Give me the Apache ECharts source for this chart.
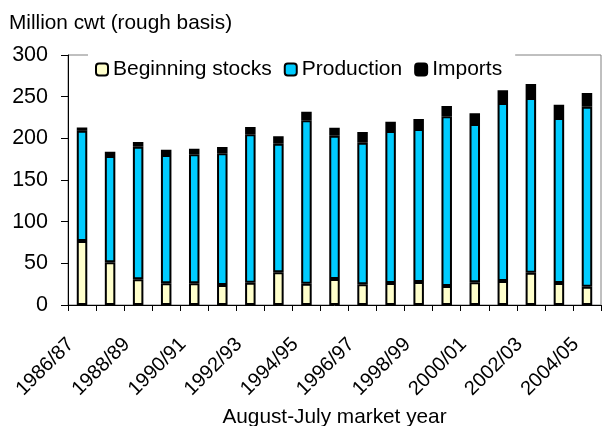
<!DOCTYPE html>
<html>
<head>
<meta charset="utf-8">
<script src="https://cdn.jsdelivr.net/npm/echarts@6/dist/echarts.min.js"></script>
<style>
html,body{margin:0;padding:0;background:#fff;}
#chart{width:602px;height:426px;}
</style>
</head>
<body>
<div id="chart"></div>
<script>
var categories = ['1986/87','1987/88','1988/89','1989/90','1990/91','1991/92','1992/93','1993/94','1994/95','1995/96','1996/97','1997/98','1998/99','1999/00','2000/01','2001/02','2002/03','2003/04','2004/05'];
var beginningStocks = [76.8, 51.2, 30.8, 26.0, 26.0, 24.0, 26.8, 39.2, 25.6, 31.2, 24.8, 26.4, 27.6, 22.8, 27.2, 28.8, 38.8, 26.4, 22.0];
var production = [132.2, 127.6, 159.2, 154.0, 154.8, 158.0, 178.2, 154.4, 196.0, 172.0, 170.0, 182.4, 183.6, 203.6, 190.0, 213.6, 209.6, 198.0, 216.0];
var imports = [4.0, 5.2, 5.6, 6.4, 6.8, 7.6, 8.6, 8.8, 10.4, 9.6, 12.8, 11.2, 12.0, 12.4, 12.8, 15.2, 16.8, 16.0, 16.4];
var yTicks = [0, 50, 100, 150, 200, 250, 300];

var FONT = "'Liberation Sans', Arial, sans-serif";
var chart = echarts.init(document.getElementById('chart'), null, {renderer: 'canvas'});

function barSeries(name, data, color) {
  return {
    name: name,
    type: 'bar',
    stack: 'total',
    data: data,
    barWidth: 10.5,
    itemStyle: {color: color, borderColor: '#000', borderWidth: 2},
    emphasis: {disabled: true},
    animation: false
  };
}

chart.setOption({
  animation: false,
  title: {
    text: 'Million cwt (rough basis)',
    left: 9, top: 11, padding: 0,
    textStyle: {fontFamily: FONT, fontSize: 20.8, fontWeight: 'normal', color: '#000', lineHeight: 24}
  },
  legend: {
    left: 88, top: 48,
    padding: [11, 13, 2, 7],
    itemWidth: 12, itemHeight: 12, itemGap: 12,
    backgroundColor: '#fff',
    z: 10,
    textStyle: {fontFamily: FONT, fontSize: 21, color: '#000', lineHeight: 21},
    data: ['Beginning stocks', 'Production', 'Imports']
  },
  grid: {
    left: 68, right: 1, top: 55, bottom: 121,
    outerBoundsMode: 'none',
    containLabel: false,
    show: true, borderColor: '#808080', borderWidth: 1, backgroundColor: 'transparent'
  },
  xAxis: {
    type: 'category',
    data: categories,
    boundaryGap: true,
    name: 'August-July market year',
    nameLocation: 'middle',
    nameGap: 102,
    nameTextStyle: {fontFamily: FONT, fontSize: 20.8, color: '#000'},
    axisLine: {lineStyle: {color: '#000', width: 1}},
    axisTick: {show: true, interval: 0, length: 6, lineStyle: {color: '#000'}},
    axisLabel: {interval: 1, rotate: 45, margin: 25, padding: [0, 16, 0, 0], fontFamily: FONT, fontSize: 20, color: '#000'},
    splitLine: {show: false}
  },
  yAxis: {
    type: 'value',
    min: yTicks[0], max: yTicks[yTicks.length - 1], interval: 50,
    axisLine: {show: true, lineStyle: {color: '#000', width: 1}},
    axisTick: {show: true, length: 7, lineStyle: {color: '#000'}},
    axisLabel: {margin: 20, fontFamily: FONT, fontSize: 21.5, color: '#000'},
    splitLine: {show: false}
  },
  series: [
    barSeries('Beginning stocks', beginningStocks, '#FFFFCC'),
    barSeries('Production', production, '#00CCFF'),
    barSeries('Imports', imports, '#000000')
  ]
});
</script>
</body>
</html>
